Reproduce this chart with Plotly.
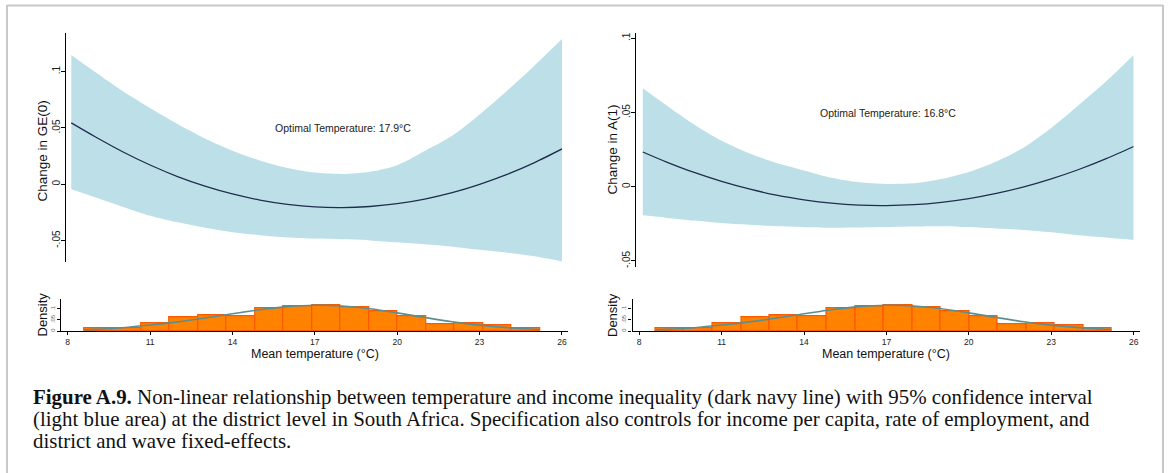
import plotly.graph_objects as go

W, H = 1170, 473

# ---------------- data ----------------
temps = [8.13, 9, 10, 11, 12, 13, 14, 15, 16, 17, 18, 19, 20, 21, 22, 23, 24, 25, 26]

# GE(0) panel: point estimate and 95% CI
ge0_mean = [0.0545, 0.0422, 0.0289, 0.0171, 0.0069, -0.0016, -0.0086, -0.0140, -0.0178,
            -0.0201, -0.0207, -0.0197, -0.0172, -0.0131, -0.0074, 0.0000, 0.0088, 0.0193, 0.0314]
ge0_upper = [0.1148, 0.0996, 0.0828, 0.0677, 0.0535, 0.0407, 0.0298, 0.0211, 0.0145,
             0.0104, 0.0092, 0.0112, 0.0170, 0.0295, 0.0430, 0.0620, 0.0830, 0.1055, 0.1290]
ge0_lower = [-0.0044, -0.0115, -0.0200, -0.0280, -0.0338, -0.0385, -0.0425, -0.0452, -0.0472,
             -0.0482, -0.0489, -0.0498, -0.0515, -0.0533, -0.0554, -0.0582, -0.0608, -0.0640, -0.0686]

# A(1) panel: point estimate and 95% CI
a1_mean = [0.0234, 0.0166, 0.0096, 0.0036, -0.0015, -0.0057, -0.0088, -0.0111, -0.0124,
           -0.0127, -0.0121, -0.0105, -0.0080, -0.0045, -0.0001, 0.0053, 0.0116, 0.0189, 0.0271]
a1_upper = [0.0664, 0.0548, 0.0420, 0.0310, 0.0226, 0.0160, 0.0110, 0.0060, 0.0030,
            0.0019, 0.0023, 0.0052, 0.0100, 0.0170, 0.0265, 0.0395, 0.0550, 0.0710, 0.0887]
a1_lower = [-0.0193, -0.0210, -0.0228, -0.0245, -0.0257, -0.0267, -0.0273, -0.0276, -0.0275,
            -0.0272, -0.0268, -0.0266, -0.0272, -0.0282, -0.0291, -0.0307, -0.0327, -0.0343, -0.0359]

optimal_ge0 = "Optimal Temperature: 17.9°C"
optimal_a1 = "Optimal Temperature: 16.8°C"

# Histogram of district mean temperature (density)
bin_edges = [8.59, 9.63, 10.67, 11.71, 12.75, 13.78, 14.82, 15.86, 16.90,
             17.94, 18.98, 20.01, 21.05, 22.09, 23.13, 24.16, 25.20]
bin_density = [0.0123, 0.0123, 0.033, 0.064, 0.073, 0.068, 0.105, 0.110,
               0.118, 0.108, 0.091, 0.068, 0.032, 0.035, 0.027, 0.012]

# Normal density overlay
norm_temps = [8.59, 9, 10, 11, 12, 13, 14, 15, 16, 17, 18, 19, 20, 21, 22, 23, 24, 25, 25.2]
norm_density = [0.0055, 0.0075, 0.0150, 0.0270, 0.0415, 0.0590, 0.0780, 0.0965, 0.1105,
                0.1170, 0.1135, 0.1010, 0.0825, 0.0615, 0.0420, 0.0265, 0.0152, 0.0080, 0.0070]

top_yticks = [-0.05, 0, 0.05, 0.1]
top_yticktext = ["-.05", "0", ".05", ".1"]
hist_yticks = [0, 0.05, 0.1]
hist_yticktext = ["0", ".05", ".1"]
xticks = [8, 11, 14, 17, 20, 23, 26]

caption_lines = [
    "<b>Figure A.9.</b> Non-linear relationship between temperature and income inequality (dark navy line) with 95% confidence interval",
    "(light blue area) at the district level in South Africa. Specification also controls for income per capita, rate of employment, and",
    "district and wave fixed-effects.",
]

# ---------------- styling ----------------
BAND = "rgb(189,224,232)"
NAVY = "rgb(32,45,78)"
BAR_FILL = "rgb(255,130,0)"
BAR_EDGE = "rgb(255,88,0)"
NORMAL = "rgb(92,142,142)"
SANS = "Liberation Sans, Arial, sans-serif"
SERIF = "Liberation Serif, Times New Roman, serif"


def px_x(p):
    return p / W


def px_y(p):
    return 1 - p / H


fig = go.Figure()


def add_panel(xa, ya, mean, upper, lower):
    xs, ys = "x" + xa, "y" + ya
    fig.add_trace(go.Scatter(x=temps, y=lower, mode="lines",
                             line=dict(width=0, color=BAND, shape="spline", smoothing=0.8),
                             hoverinfo="skip", showlegend=False, xaxis=xs, yaxis=ys))
    fig.add_trace(go.Scatter(x=temps, y=upper, mode="lines",
                             line=dict(width=0, color=BAND, shape="spline", smoothing=0.8),
                             fill="tonexty", fillcolor=BAND, showlegend=False, xaxis=xs, yaxis=ys))
    fig.add_trace(go.Scatter(x=temps, y=mean, mode="lines",
                             line=dict(width=1.3, color=NAVY, shape="spline", smoothing=0.8),
                             showlegend=False, xaxis=xs, yaxis=ys))


def add_hist(xa, ya):
    xs, ys = "x" + xa, "y" + ya
    centers = [(a + b) / 2 for a, b in zip(bin_edges[:-1], bin_edges[1:])]
    widths = [b - a for a, b in zip(bin_edges[:-1], bin_edges[1:])]
    fig.add_trace(go.Bar(x=centers, y=bin_density, width=widths,
                         marker=dict(color=BAR_FILL, line=dict(color=BAR_EDGE, width=1.2)),
                         showlegend=False, xaxis=xs, yaxis=ys))
    fig.add_trace(go.Scatter(x=norm_temps, y=norm_density, mode="lines",
                             line=dict(width=1.6, color=NORMAL, shape="spline"),
                             showlegend=False, xaxis=xs, yaxis=ys))


add_panel("", "", ge0_mean, ge0_upper, ge0_lower)
add_hist("2", "2")
add_panel("3", "3", a1_mean, a1_upper, a1_lower)
add_hist("4", "4")

top_y_common = dict(
    tickvals=top_yticks, ticktext=top_yticktext, tickangle=-90,
    ticks="outside", ticklen=4, tickwidth=1, tickcolor="black", ticklabelstandoff=-3,
    tickfont=dict(family=SANS, size=10, color="#222"),
    showline=True, linecolor="black", linewidth=1.3, showgrid=False, zeroline=False,
)
hist_y_common = dict(
    tickvals=hist_yticks, ticktext=hist_yticktext, tickangle=-90, range=[0, 0.144],
    ticks="outside", ticklen=3, tickwidth=1, tickcolor="black",
    tickfont=dict(family=SANS, size=6, color="#666"),
    showline=True, linecolor="black", linewidth=1.3, showgrid=False, zeroline=False,
)
hist_x_common = dict(
    tickvals=xticks, ticks="outside", ticklen=3, tickwidth=1, tickcolor="black",
    tickfont=dict(family=SANS, size=8.5, color="#222"),
    showline=True, linecolor="black", linewidth=1.3, showgrid=False, zeroline=False,
)
top_x_common = dict(visible=False, showgrid=False, zeroline=False)

fig.update_layout(
    width=W, height=H, autosize=False,
    margin=dict(l=0, r=0, t=0, b=0),
    paper_bgcolor="white", plot_bgcolor="white",
    bargap=0,
    # left coefficient panel
    xaxis=dict(domain=[px_x(65.8), px_x(562.0)], range=[7.931, 26.0], anchor="y", **top_x_common),
    yaxis=dict(domain=[px_y(262.0), px_y(32.7)], range=[-0.0690, 0.1346], anchor="x",
               **top_y_common),
    # left histogram
    xaxis2=dict(domain=[px_x(61.3), px_x(567.7)], range=[7.767, 26.21], anchor="y2", **hist_x_common),
    yaxis2=dict(domain=[px_y(331), px_y(299.3)], anchor="x2", **hist_y_common),
    # right coefficient panel
    xaxis3=dict(domain=[px_x(636.0), px_x(1133.7)], range=[7.884, 26.0], anchor="y3", **top_x_common),
    yaxis3=dict(domain=[px_y(267.0), px_y(32.7)], range=[-0.0541, 0.1038], anchor="x3",
                **top_y_common),
    # right histogram
    xaxis4=dict(domain=[px_x(632.6), px_x(1140.0)], range=[7.76, 26.23], anchor="y4", **hist_x_common),
    yaxis4=dict(domain=[px_y(331), px_y(299.3)], anchor="x4", **hist_y_common),
)

ann = []
# optimal-temperature labels
ann.append(dict(x=18.03, y=0.0497, xref="x", yref="y", text=optimal_ge0, showarrow=False,
                font=dict(family=SANS, size=10.5, color="#222")))
ann.append(dict(x=17.07, y=0.0495, xref="x3", yref="y3", text=optimal_a1, showarrow=False,
                font=dict(family=SANS, size=10.5, color="#222")))

# axis titles
for txt, xp, yp, sz, ang in [
    ("Change in GE(0)", 41.5, 151, 13.5, -90),
    ("Change in A(1)", 611.5, 150, 13.5, -90),
    ("Density", 41.5, 315, 13, -90),
    ("Density", 612, 315, 13, -90),
    ("Mean temperature (°C)", 314.7, 353.5, 12.5, 0),
    ("Mean temperature (°C)", 886, 353.5, 12.5, 0),
]:
    ann.append(dict(x=px_x(xp), y=px_y(yp), xref="paper", yref="paper", text=txt,
                    showarrow=False, textangle=ang, xanchor="center", yanchor="middle",
                    font=dict(family=SANS, size=sz, color="#111")))

# caption
for i, line in enumerate(caption_lines):
    ann.append(dict(x=px_x(31), y=px_y(397 + 22 * i), xref="paper", yref="paper", text=line,
                    showarrow=False, xanchor="left", yanchor="middle", align="left",
                    font=dict(family=SERIF, size=20.9, color="#111")))

fig.update_layout(annotations=ann)

# light grey frame around the figure
frame = dict(color="rgb(200,200,200)", width=2)
fig.add_shape(type="line", xref="paper", yref="paper", x0=px_x(7), x1=px_x(7),
              y0=px_y(5), y1=px_y(480), line=frame)
fig.add_shape(type="line", xref="paper", yref="paper", x0=px_x(7), x1=px_x(1163),
              y0=px_y(5.5), y1=px_y(5.5), line=frame)
fig.add_shape(type="line", xref="paper", yref="paper", x0=px_x(1163), x1=px_x(1163),
              y0=px_y(5), y1=px_y(480), line=frame)

fig.write_html("out.html")
